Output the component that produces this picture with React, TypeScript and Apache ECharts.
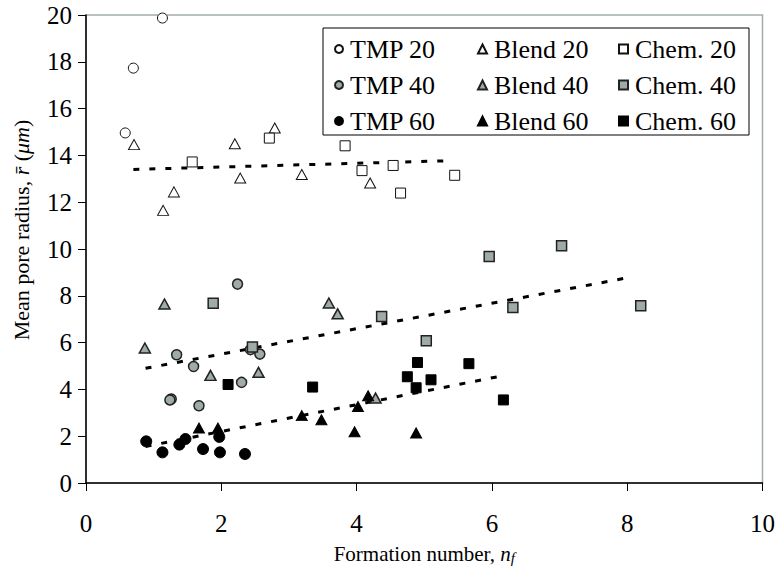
import React, { useEffect, useRef } from "react";
import * as echarts from "echarts";

const xTicks = { min: 0, max: 10, interval: 2 };
const yTicks = { min: 0, max: 20, interval: 2 };

const tmp20 = [[0.58, 14.96], [0.70, 17.73], [1.13, 19.87]];
const blend20 = [[0.71, 14.46], [1.14, 11.65], [1.30, 12.44], [2.20, 14.50], [2.28, 13.03], [2.79, 15.17], [3.19, 13.18], [4.20, 12.82]];
const chem20 = [[1.57, 13.72], [2.71, 14.74], [3.83, 14.41], [4.08, 13.35], [4.54, 13.57], [4.65, 12.39], [5.45, 13.15]];

const tmp40 = [[2.24, 8.50], [1.34, 5.48], [1.59, 4.98], [2.30, 4.30], [2.57, 5.51], [1.26, 3.59], [1.24, 3.55], [1.67, 3.30], [2.43, 5.70]];
const blend40 = [[1.16, 7.65], [0.87, 5.77], [1.84, 4.60], [2.55, 4.73], [3.59, 7.69], [3.72, 7.23], [4.28, 3.63]];
const chem40 = [[1.88, 7.68], [2.46, 5.81], [4.37, 7.12], [5.03, 6.08], [5.96, 9.68], [6.31, 7.50], [7.03, 10.14], [8.20, 7.58]];

const tmp60 = [[0.89, 1.78], [1.13, 1.31], [1.38, 1.64], [1.47, 1.88], [1.73, 1.45], [1.97, 1.97], [1.98, 1.31], [2.35, 1.24]];
const blend60 = [[1.67, 2.35], [1.95, 2.35], [3.19, 2.88], [3.48, 2.70], [3.97, 2.19], [4.02, 3.27], [4.17, 3.73], [4.88, 2.14]];
const chem60 = [[2.10, 4.21], [3.35, 4.10], [4.90, 5.15], [4.75, 4.54], [5.10, 4.41], [4.88, 4.07], [5.66, 5.10], [6.17, 3.55]];

const trend20 = [[0.70, 13.40], [5.35, 13.77]];
const trend40 = [[0.88, 4.90], [8.06, 8.80]];
const trend60 = [[0.88, 1.56], [6.17, 4.59]];

const FONT = "Liberation Serif";
const GRAY = "#9eaba9";

type Kind = "open" | "gray" | "black";
const styleFor = (k: Kind) =>
  k === "open"
    ? { color: "#ffffff", borderColor: "#111", borderWidth: 1, opacity: 1 }
    : k === "gray"
    ? { color: GRAY, borderColor: "#222", borderWidth: 1.5, opacity: 1 }
    : { color: "#000000", borderColor: "#000", borderWidth: 1, opacity: 1 };

const scatter = (name: string, data: number[][], symbol: string, size: any, k: Kind) => ({
  name,
  type: "scatter",
  data,
  symbol,
  symbolSize: size,
  itemStyle: styleFor(k),
  z: 3,
});

const trend = (data: number[][]) => ({
  type: "line",
  data,
  symbol: "none",
  lineStyle: { color: "#000", width: 3, type: [6, 10] },
  z: 2,
  silent: true,
});

export default function App() {
  const ref = useRef<HTMLDivElement>(null);
  useEffect(() => {
    const chart = echarts.init(ref.current!, null, { renderer: "svg" });
    const legendCommon = {
      orient: "vertical",
      top: 36,
      padding: 0,
      itemGap: 10,
      itemWidth: 9,
      itemHeight: 9,
      textStyle: { fontFamily: FONT, fontSize: 26, color: "#000", padding: [2, 0, 0, 2] },
    };
    chart.setOption({
      animation: false,
      backgroundColor: "#fff",
      textStyle: { fontFamily: FONT },
      grid: {
        left: 86,
        right: 14,
        top: 15,
        bottom: 91,
        show: true,
        borderColor: "#a3acac",
        borderWidth: 1.5,
      },
      xAxis: {
        type: "value",
        ...xTicks,
        name: "Formation number, {i|n}{s|f}",
        nameLocation: "middle",
        nameGap: 59,
        nameTextStyle: {
          fontFamily: FONT,
          fontSize: 21,
          color: "#000",
          rich: {
            i: { fontFamily: FONT, fontSize: 21, fontStyle: "italic", color: "#000" },
            s: { fontFamily: FONT, fontSize: 15, fontStyle: "italic", color: "#000", verticalAlign: "bottom", padding: [8, 0, 0, 0] },
          },
        },
        axisLine: { lineStyle: { color: "#000", width: 1.5 } },
        axisTick: { length: 8, lineStyle: { color: "#000", width: 1 } },
        axisLabel: { fontFamily: FONT, fontSize: 25, color: "#000", margin: 28 },
        splitLine: { show: false },
      },
      yAxis: {
        type: "value",
        ...yTicks,
        name: "Mean pore radius, {i|r\u0304} ({i|\u03bcm})",
        nameLocation: "middle",
        nameRotate: 90,
        nameGap: 54,
        nameTextStyle: {
          fontFamily: FONT,
          fontSize: 22,
          color: "#000",
          padding: [0, 0, 0, 38],
          rich: {
            i: { fontFamily: FONT, fontSize: 22, fontStyle: "italic", color: "#000" },
          },
        },
        axisLine: { show: true, lineStyle: { color: "#000", width: 1.5 } },
        axisTick: { show: true, length: 8, lineStyle: { color: "#000", width: 1 } },
        axisLabel: { fontFamily: FONT, fontSize: 25, color: "#000", margin: 14 },
        splitLine: { show: false },
      },
      legend: [
        { ...legendCommon, left: 334, data: [{ name: "TMP 20", icon: "circle" }, { name: "TMP 40", icon: "circle" }, { name: "TMP 60", icon: "circle" }], itemWidth: 8, itemHeight: 8 },
        { ...legendCommon, left: 477, data: [{ name: "Blend 20", icon: "triangle" }, { name: "Blend 40", icon: "triangle" }, { name: "Blend 60", icon: "triangle" }] },
        { ...legendCommon, left: 618, data: [{ name: "Chem. 20", icon: "rect" }, { name: "Chem. 40", icon: "rect" }, { name: "Chem. 60", icon: "rect" }] },
      ],
      graphic: [
        {
          type: "rect",
          shape: { x: 323, y: 28, width: 426, height: 107 },
          style: { fill: "#fff", stroke: "#000", lineWidth: 1 },
          z: 0,
          silent: true,
        },
      ],
      series: [
        trend(trend20),
        trend(trend40),
        trend(trend60),
        scatter("TMP 20", tmp20, "circle", 10, "open"),
        scatter("TMP 40", tmp40, "circle", 10, "gray"),
        scatter("TMP 60", tmp60, "circle", 11, "black"),
        scatter("Blend 20", blend20, "triangle", [11, 10], "open"),
        scatter("Blend 40", blend40, "triangle", [11, 10], "gray"),
        scatter("Blend 60", blend60, "triangle", [11, 10], "black"),
        scatter("Chem. 20", chem20, "rect", 10, "open"),
        scatter("Chem. 40", chem40, "rect", 10, "gray"),
        scatter("Chem. 60", chem60, "rect", 10, "black"),
      ],
    });
    return () => chart.dispose();
  }, []);
  return <div ref={ref} style={{ position: "absolute", left: 0, top: 0, width: 778, height: 574 }} />;
}
